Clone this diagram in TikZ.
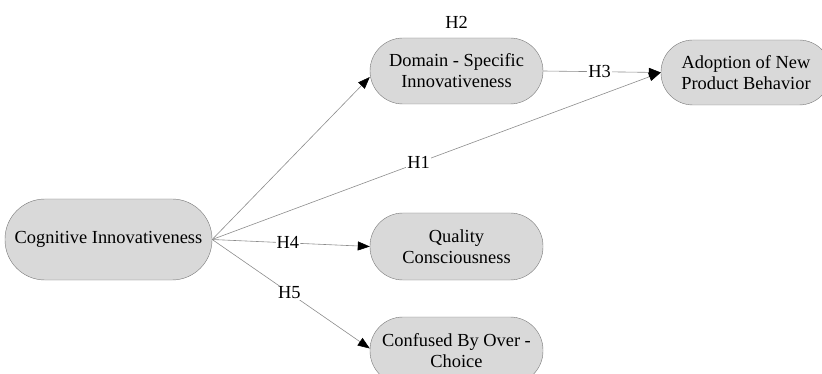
\documentclass[tikz,border=0pt]{standalone}
\usepackage{fontspec}
\setmainfont{Liberation Serif}
\usetikzlibrary{arrows.meta,positioning}
\definecolor{boxfill}{RGB}{217,217,217}
\definecolor{boxline}{RGB}{120,120,120}
\definecolor{linkline}{RGB}{140,140,140}
\begin{document}
\begin{tikzpicture}[x=1pt,y=-1pt,font=\fontsize{18.4}{21}\selectfont]
        \useasboundingbox (0,0) rectangle (822,374);
        \begin{scope}[every node/.style={rectangle,draw=boxline,fill=boxfill,align=center,inner sep=0pt,minimum width=173pt,minimum height=66pt,rounded corners=33pt}]
        \node (cog) at (108.5,239.5) [minimum width=207pt,minimum height=81pt,rounded corners=40pt] {Cognitive Innovativeness};
        \node (dom) at (456.5,71) {Domain - Specific\\Innovativeness};
        \node (adopt) at (746,72.5) [minimum width=170pt,minimum height=65pt,rounded corners=32pt] {Adoption of New\\Product Behavior};
        \node (qual) at (456.5,246.5) [minimum height=67pt] {Quality\\Consciousness};
        \node (conf) at (456.5,350.5) [minimum height=67pt] {Confused By Over -\\Choice};
        \end{scope}
        \node (h2) [above=8pt of dom,inner sep=1pt] {H2};
        \begin{scope}[every edge/.style={draw=linkline,line width=0.6pt,-{Triangle[length=12pt,width=9pt,color=black]}},
                      every node/.style={fill=white,inner sep=1pt}]
        \path (cog.east) edge ([yshift=-6pt]dom.west)
              (cog.east) edge node[pos=0.46] {H1} (adopt.west)
              (dom.east) edge node[pos=0.48] {H3} (adopt.west)
              (cog.east) edge node[pos=0.48] {H4} (qual.west)
              (cog.east) edge node[pos=0.49] {H5} ([yshift=2pt]conf.west);
        \end{scope}
\end{tikzpicture}
\end{document}
